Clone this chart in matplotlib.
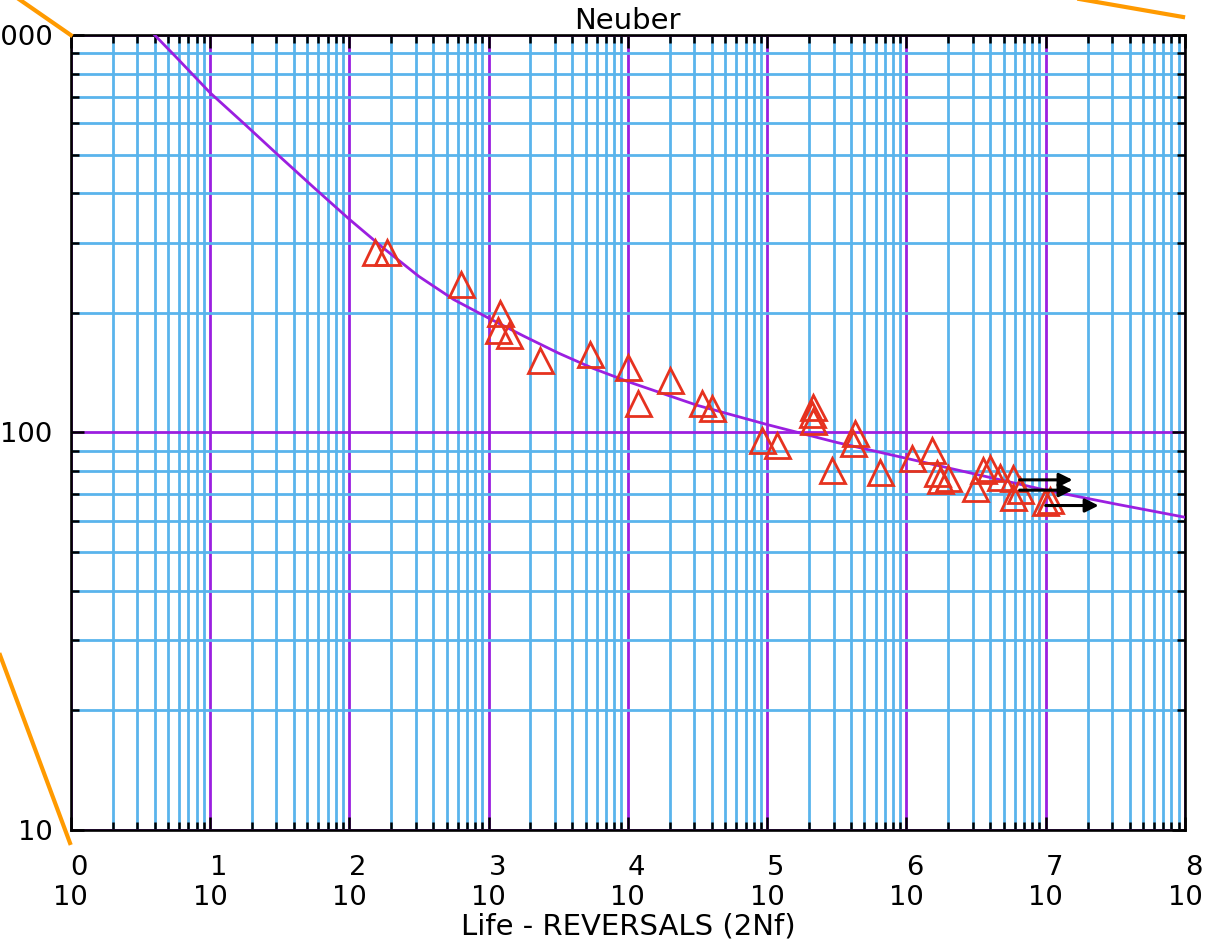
import numpy as np
import matplotlib.pyplot as plt
from matplotlib.lines import Line2D
from matplotlib.ticker import FixedLocator, LogLocator, NullFormatter

# Neuber fit curve (life in reversals, stress)
curve_life = [3.16, 5.62, 10, 17.8, 31.6, 56.2, 100, 178, 316, 562, 1000,
              1778, 3162, 5623, 1e4, 3.16e4, 1e5, 3.16e5, 1e6, 3.16e6,
              1e7, 3.16e7, 1e8]
curve_stress = [1089, 885, 716, 596, 495, 412, 344, 290, 247, 216, 194,
                175, 158.5, 145, 134.3, 117, 104.7, 94.4, 86.1, 78.5,
                71.6, 66.1, 61.2]

# test data
test_life = [153, 187, 634, 1208, 1169, 1403, 2339, 5346, 1.0e4, 1.18e4, 2.0e4,
             3.4e4, 4.02e4, 2.13e5, 2.10e5, 2.13e5, 9.18e4, 1.17e5, 2.92e5,
             4.27e5, 4.13e5, 6.46e5, 1.10e6, 1.52e6, 1.66e6, 1.74e6, 1.99e6,
             3.09e6, 3.55e6, 3.98e6, 4.68e6, 5.82e6, 5.82e6, 6.53e6, 9.86e6, 1.07e7]
test_stress = [284, 284, 236, 200, 181, 176, 152, 158, 146, 118.6, 135.5,
               118.6, 115, 115.8, 111, 107, 95.8, 93, 80.5,
               99.8, 94.3, 79.6, 86.3, 90.3, 79.1, 76, 77,
               72.4, 80.5, 81.4, 77.3, 76.9, 68.9, 71.6, 66.8, 67.6]

# runouts
runout_life = [6.5e6, 6.5e6, 1.0e7]
runout_stress = [76, 71.6, 65.5]
runout_len = 2.4

decades = list(range(0, 9))
xtick_labels = ['%d\n10' % n for n in decades]
ytick_vals = [10, 100, 1000]
ytick_labels = ['10', '100', '1000']

purple = '#9b1fe0'
blue = '#5ab4ec'
red = '#e6321f'
orange = '#ff9a00'
fs = 21
tick_fs = 19.7

fig = plt.figure(figsize=(12.13, 9.44), dpi=100)
ax = fig.add_axes([0.0583, 0.1208, 0.9186, 0.8421])
ax.set_xscale('log')
ax.set_yscale('log')
ax.set_xlim(1, 1e8)
ax.set_ylim(10, 1000)

ax.xaxis.set_major_locator(FixedLocator([10.0 ** n for n in decades]))
ax.xaxis.set_minor_locator(LogLocator(base=10, subs=range(2, 10), numticks=50))
ax.yaxis.set_major_locator(FixedLocator(ytick_vals))
ax.yaxis.set_minor_locator(LogLocator(base=10, subs=range(2, 10), numticks=50))
ax.xaxis.set_minor_formatter(NullFormatter())
ax.yaxis.set_minor_formatter(NullFormatter())
ax.set_xticklabels(xtick_labels, fontsize=tick_fs, multialignment='right',
                   linespacing=1.2)
ax.set_yticklabels(ytick_labels, fontsize=tick_fs)

ax.grid(which='major', color=purple, lw=2.0)
ax.grid(which='minor', color=blue, lw=2.0)
ax.tick_params(which='both', direction='in', top=True, right=True,
               width=1.8, color='black')
ax.tick_params(which='major', length=9.5)
ax.tick_params(which='minor', length=5.5)
ax.tick_params(axis='x', which='major', pad=18)
ax.tick_params(axis='y', which='major', pad=13)
for s in ax.spines.values():
    s.set_linewidth(1.9)

ax.plot(curve_life, curve_stress, color=purple, lw=2.0, zorder=3)
ax.plot(test_life, test_stress, ls='none', marker='^', ms=18, mfc='none',
        mec=red, mew=2.0, zorder=4)
for x, y in zip(runout_life, runout_stress):
    ax.annotate('', xy=(x * runout_len, y), xytext=(x, y),
                arrowprops=dict(arrowstyle='-|>', color='black', lw=2.2,
                                mutation_scale=20, shrinkA=0, shrinkB=0),
                zorder=5)

ax.set_title('Neuber', fontsize=fs, pad=3)
ax.set_xlabel('Life - REVERSALS (2Nf)', fontsize=fs, labelpad=1)

# callout lines around the chart
for xs, ys in [([0.0, 0.0583], [1.0148, 0.9629]),
               ([0.8739, 0.9753], [1.0046, 0.982]),
               ([0.0, 0.0577], [0.3061, 0.107])]:
    fig.add_artist(Line2D(xs, ys, transform=fig.transFigure, color=orange, lw=3.0))

fig.savefig('out.png', dpi=100)
